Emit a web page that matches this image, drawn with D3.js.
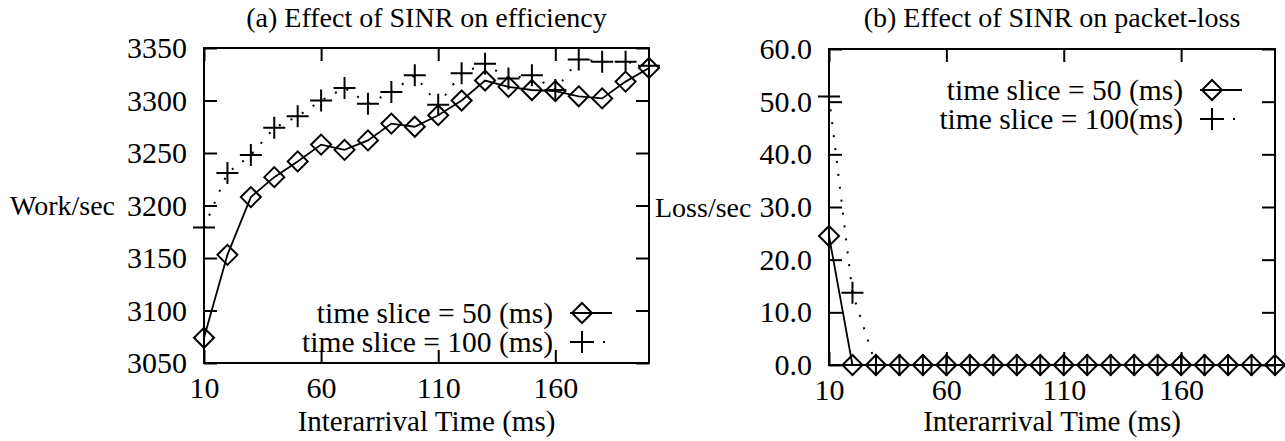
<!DOCTYPE html>
<html>
<head>
<meta charset="utf-8">
<script src="https://cdn.jsdelivr.net/npm/d3@7"></script>
<style>
  body { margin: 0; background: #fff; }
</style>
</head>
<body>
<div id="svg-container"></div>
<script>
////////////////////////////////////////////////////////////////////
////////////////////////////  Data  ////////////////////////////////
const interarrival = [10, 20, 30, 40, 50, 60, 70, 80, 90, 100, 110, 120, 130, 140, 150, 160, 170, 180, 190, 200];
const xTicks = [10, 60, 110, 160];

// (a) work/sec
const work50 = [3074, 3153, 3208, 3227, 3242, 3258, 3253, 3262, 3278, 3275, 3286, 3300, 3319, 3313, 3310, 3309, 3304, 3302, 3318, 3331];
const work100 = [3179, 3231, 3248, 3274, 3285, 3300, 3312, 3297, 3308, 3324, 3296, 3326, 3335, 3321, 3324, 3310, 3339, 3337, 3337, 3333];
const workTicks = [3050, 3100, 3150, 3200, 3250, 3300, 3350];

// (b) loss/sec
const loss50 = [24.5, 0, 0, 0, 0, 0, 0, 0, 0, 0, 0, 0, 0, 0, 0, 0, 0, 0, 0, 0];
const loss100 = [51, 13.7, 0, 0, 0, 0, 0, 0, 0, 0, 0, 0, 0, 0, 0, 0, 0, 0, 0, 0];
const lossTicks = [0, 10, 20, 30, 40, 50, 60];

const titles = ["(a) Effect of SINR on efficiency", "(b) Effect of SINR on packet-loss"];
const yLabels = ["Work/sec", "Loss/sec"];
const xLabel = "Interarrival Time (ms)";
const legendA = ["time slice = 50 (ms)", "time slice = 100 (ms)"];
const legendB = ["time slice = 50 (ms)", "time slice = 100(ms)"];

////////////////////////////////////////////////////////////////////
////////////////////////////  Init  ///////////////////////////////
const width = 1285, height = 441;
const FONT = "'Liberation Serif'";
const svg = d3.select("#svg-container").append("svg")
  .attr("width", width).attr("height", height)
  .style("display", "block");

const TICK = 13;

// diamond / plus symbols
const diamond = (r) => `M0,${-r}L${r},0L0,${r}L${-r},0Z`;
const plus = (r) => `M${-r},0H${r}M0,${-r}V${r}`;

function panel(cfg) {
  const x = d3.scaleLinear().domain([10, 200]).range([cfg.x0, cfg.x1]);
  const y = d3.scaleLinear().domain(cfg.yDomain).range([cfg.y1, cfg.y0]);
  const g = svg.append("g");

  // axes (inward ticks, mirrored)
  const styleAxis = (a) => {
    a.select(".domain").remove();
    a.selectAll("line").attr("stroke", "#000").attr("stroke-width", 2);
  };
  g.append("g").attr("transform", `translate(0,${cfg.y1})`)
    .call(d3.axisBottom(x).tickValues(xTicks).tickSize(-TICK).tickPadding(14).tickFormat(d3.format("d")))
    .call(styleAxis)
    .selectAll("text").attr("font-size", 30);
  g.append("g").attr("transform", `translate(0,${cfg.y0})`)
    .call(d3.axisTop(x).tickValues(xTicks).tickSize(-TICK).tickFormat(""))
    .call(styleAxis);
  g.append("g").attr("transform", `translate(${cfg.x0},0)`)
    .call(d3.axisLeft(y).tickValues(cfg.yTicks).tickSize(-TICK).tickPadding(17).tickFormat(cfg.fmt))
    .call(styleAxis)
    .selectAll("text").attr("font-size", 30);
  g.append("g").attr("transform", `translate(${cfg.x1},0)`)
    .call(d3.axisRight(y).tickValues(cfg.yTicks).tickSize(-TICK).tickFormat(""))
    .call(styleAxis);

  // frame
  g.append("rect")
    .attr("x", cfg.x0).attr("y", cfg.y0)
    .attr("width", cfg.x1 - cfg.x0).attr("height", cfg.y1 - cfg.y0)
    .attr("fill", "none").attr("stroke", "#000").attr("stroke-width", 2);

  // titles
  g.append("text")
    .attr("x", (cfg.x0 + cfg.x1) / 2).attr("y", 27)
    .attr("text-anchor", "middle").attr("font-size", 28)
    .text(cfg.title);
  g.append("text")
    .attr("x", (cfg.x0 + cfg.x1) / 2).attr("y", 431)
    .attr("text-anchor", "middle").attr("font-size", 29)
    .text(xLabel);
  g.append("text")
    .attr("x", cfg.yLabelX).attr("y", y(cfg.yLabelAt)).attr("dy", "0.35em")
    .attr("font-size", 28)
    .text(cfg.yLabel);

  // series
  const line = d3.line().x((d) => x(d[0])).y((d) => y(d[1]));
  const s1 = interarrival.map((v, i) => [v, cfg.s1[i]]);
  const s2 = interarrival.map((v, i) => [v, cfg.s2[i]]);

  g.append("path").datum(s2).attr("d", line)
    .attr("fill", "none").attr("stroke", "#000").attr("stroke-width", 2)
    .attr("stroke-dasharray", "2,11");
  g.append("path").datum(s1).attr("d", line)
    .attr("fill", "none").attr("stroke", "#000").attr("stroke-width", 1.8);

  g.selectAll(".pt2").data(s2).join("path")
    .attr("transform", (d) => `translate(${x(d[0])},${y(d[1])})`)
    .attr("d", plus(11)).attr("fill", "none").attr("stroke", "#000").attr("stroke-width", 2);
  g.selectAll(".pt1").data(s1).join("path")
    .attr("transform", (d) => `translate(${x(d[0])},${y(d[1])})`)
    .attr("d", diamond(10)).attr("fill", "none").attr("stroke", "#000").attr("stroke-width", 2);

  // legend
  const lg = g.append("g");
  cfg.legend.forEach((t, i) => {
    const ly = cfg.legY + i * 29;
    lg.append("text")
      .attr("x", cfg.legX).attr("y", ly).attr("dy", "0.35em")
      .attr("text-anchor", "end").attr("font-size", 29.5)
      .text(t);
    const sx0 = cfg.legX + 17, sx1 = cfg.legX + 59, mx = cfg.legX + 29;
    lg.append("line")
      .attr("x1", sx0).attr("x2", sx1).attr("y1", ly).attr("y2", ly)
      .attr("stroke", "#000").attr("stroke-width", i === 0 ? 1.8 : 2)
      .attr("stroke-dasharray", i === 0 ? null : "2,9");
    lg.append("path")
      .attr("transform", `translate(${mx},${ly})`)
      .attr("d", i === 0 ? diamond(10) : plus(11))
      .attr("fill", "none").attr("stroke", "#000").attr("stroke-width", 2);
  });
}

panel({
  x0: 204, x1: 649, y0: 48, y1: 363,
  yDomain: [3050, 3350], yTicks: workTicks, fmt: d3.format("d"),
  s1: work50, s2: work100,
  title: titles[0], yLabel: yLabels[0], yLabelX: 10, yLabelAt: 3200,
  legend: legendA, legX: 553, legY: 313,
});

panel({
  x0: 829, x1: 1275, y0: 49, y1: 365,
  yDomain: [0, 60], yTicks: lossTicks, fmt: d3.format(".1f"),
  s1: loss50, s2: loss100,
  title: titles[1], yLabel: yLabels[1], yLabelX: 655, yLabelAt: 30,
  legend: legendB, legX: 1183, legY: 90,
});

// serif everywhere (set per text element)
svg.selectAll("text").style("font-family", FONT).attr("fill", "#000");
</script>
</body>
</html>
